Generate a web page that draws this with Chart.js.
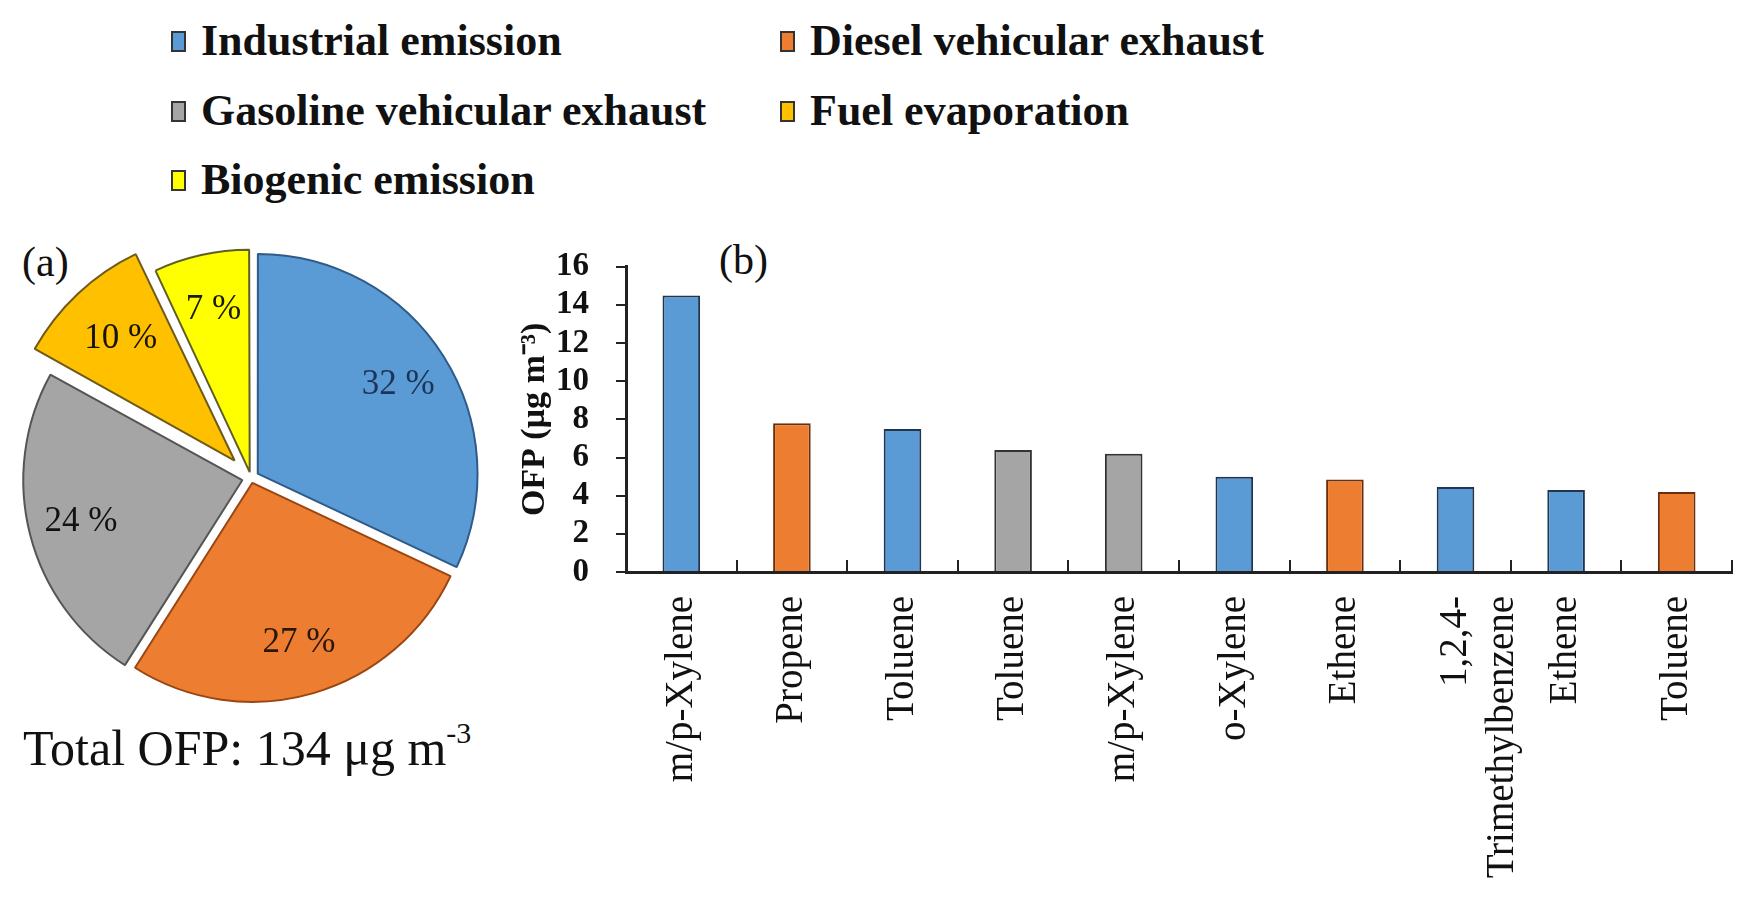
<!DOCTYPE html>
<html>
<head>
<meta charset="utf-8">
<title>OFP by source</title>
<script src="https://cdn.jsdelivr.net/npm/chart.js@4.4.0/dist/chart.umd.min.js"></script>
<style>
  body { margin: 0; background: #fff; }
  #page {
    position: relative; width: 1754px; height: 904px; overflow: hidden;
    font-family: "Liberation Serif", "Times New Roman", serif; color: #111;
  }
  .txt { position: absolute; white-space: nowrap; line-height: 1; }
  .leg {
    position: absolute; display: flex; align-items: center; white-space: nowrap;
    font-weight: bold; font-size: 44px; line-height: 44px;
  }
  .leg i { display: inline-block; width: 11px; height: 17px; border: 2px solid #333; margin-right: 15px; }
  #pie { position: absolute; left: -9px; top: 218px; }
  #bar { position: absolute; left: 480px; top: 220px; }
  sup { font-size: 60%; vertical-align: 0.75em; line-height: 0; }
</style>
</head>
<body>
<div id="page">
  <div id="legend"></div>
  <div class="txt" style="left:22px; top:241px; font-size:42px;">(a)</div>
  <div class="txt" style="left:719px; top:239px; font-size:42px;">(b)</div>
  <div class="txt" style="left:23px; top:723px; font-size:50px;">Total OFP: 134 μg m<sup>-3</sup></div>
  <canvas id="pie" width="520" height="520"></canvas>
  <canvas id="bar" width="1274" height="684"></canvas>
</div>
<script>
const SERIF = '"Liberation Serif", "Times New Roman", serif';

// emission sources (pie a)
const sourceNames = ["Industrial emission", "Diesel vehicular exhaust", "Gasoline vehicular exhaust", "Fuel evaporation", "Biogenic emission"];
const sourceShares = [32, 27, 24, 10, 7];
const sourceColors = ["#5B9BD5", "#ED7D31", "#A5A5A5", "#FFC000", "#FFFF00"];
const sourceBorders = ["#2f5b88", "#9a4612", "#555555", "#6e5a1a", "#5e5e2a"];
const pieLabelColors = ["#1c3458", "#2a1608", "#111111", "#1a1408", "#1a1a08"];
const sliceOffsets = [8, 5, 9, 24, 6];

// top species (bar b)
const speciesLabels = ["m/p-Xylene", "Propene", "Toluene", "Toluene", "m/p-Xylene", "o-Xylene", "Ethene", ["1,2,4-", "Trimethylbenzene"], "Ethene", "Toluene"];
const speciesOFP = [14.5, 7.8, 7.5, 6.4, 6.2, 5.0, 4.85, 4.45, 4.3, 4.2];
const speciesSource = [0, 1, 0, 2, 2, 0, 1, 0, 0, 1];
const barBorders = ["#1f3550", "#6b2e0a", "#333333"];
const yTicks = [0, 16, 2];

// html legend, two columns
const legendCols = [171, 780];
const legendRows = [19, 89, 158];
const legendBox = document.getElementById("legend");
sourceNames.forEach((name, i) => {
  const el = document.createElement("div");
  el.className = "leg";
  el.style.left = legendCols[i % 2] + "px";
  el.style.top = legendRows[Math.floor(i / 2)] + "px";
  el.innerHTML = `<i style="background:${sourceColors[i]}"></i>${name}`;
  legendBox.appendChild(el);
});

const pieLabels = {
  id: "pieLabels",
  afterDatasetsDraw(chart) {
    const ctx = chart.ctx;
    const meta = chart.getDatasetMeta(0);
    ctx.save();
    ctx.font = `35px ${SERIF}`;
    ctx.textAlign = "center";
    ctx.textBaseline = "middle";
    meta.data.forEach((arc, i) => {
      const p = arc.getProps(["x", "y", "startAngle", "endAngle", "outerRadius"], true);
      const mid = (p.startAngle + p.endAngle) / 2;
      const r = sliceOffsets[i] + p.outerRadius * 0.76;
      ctx.fillStyle = pieLabelColors[i];
      ctx.fillText(sourceShares[i] + " %", p.x + Math.cos(mid) * r, p.y + Math.sin(mid) * r);
    });
    ctx.restore();
  }
};

new Chart(document.getElementById("pie"), {
  type: "pie",
  data: {
    labels: sourceNames,
    datasets: [{
      data: sourceShares,
      backgroundColor: sourceColors,
      borderColor: sourceBorders,
      borderWidth: 2,
      offset: sliceOffsets.map(v => v * 4),
      hoverOffset: 0
    }]
  },
  options: {
    responsive: false,
    animation: false,
    radius: 219,
    layout: { padding: 0 },
    plugins: { legend: { display: false }, tooltip: { enabled: false } }
  },
  plugins: [pieLabels]
});

// small tick marks between categories, pointing up from the x axis
const xTickMarks = {
  id: "xTickMarks",
  afterDraw(chart) {
    const xs = chart.scales.x;
    const ctx = chart.ctx;
    const n = xs.ticks.length;
    const step = xs.width / n;
    ctx.save();
    ctx.strokeStyle = "#222";
    ctx.lineWidth = 2;
    for (let i = 1; i <= n; i++) {
      const px = Math.round(xs.left + i * step);
      ctx.beginPath();
      ctx.moveTo(px, xs.top);
      ctx.lineTo(px, xs.top - 12);
      ctx.stroke();
    }
    ctx.restore();
  }
};

new Chart(document.getElementById("bar"), {
  type: "bar",
  data: {
    labels: speciesLabels,
    datasets: [{
      data: speciesOFP,
      backgroundColor: speciesSource.map(s => sourceColors[s]),
      borderColor: speciesSource.map(s => barBorders[s]),
      borderWidth: 2,
      barPercentage: 0.34,
      categoryPercentage: 1
    }]
  },
  options: {
    responsive: false,
    animation: false,
    layout: { padding: { top: 30, right: 22, left: 0, bottom: 0 } },
    plugins: { legend: { display: false }, tooltip: { enabled: false } },
    scales: {
      x: {
        grid: { display: false, drawTicks: false },
        border: { display: true, color: "#222", width: 3 },
        ticks: {
          color: "#111", font: { family: SERIF, size: 39 },
          padding: 24, minRotation: 90, maxRotation: 90, autoSkip: false
        },
        afterFit(s) { s.height = 332; }
      },
      y: {
        min: yTicks[0], max: yTicks[1],
        ticks: {
          stepSize: yTicks[2], autoSkip: false, color: "#111",
          font: { family: SERIF, size: 33, weight: "bold" }, padding: 27
        },
        grid: { drawOnChartArea: false, drawTicks: true, tickLength: 10, color: "#222", lineWidth: 2 },
        border: { display: true, color: "#222", width: 3 },
        title: {
          display: true, text: "OFP (μg m⁻³)", color: "#111",
          font: { family: SERIF, size: 34, weight: "bold" },
          padding: { top: 35, bottom: 0 }
        },
        afterFit(s) { s.width = 146; }
      }
    }
  },
  plugins: [xTickMarks]
});
</script>
</body>
</html>
